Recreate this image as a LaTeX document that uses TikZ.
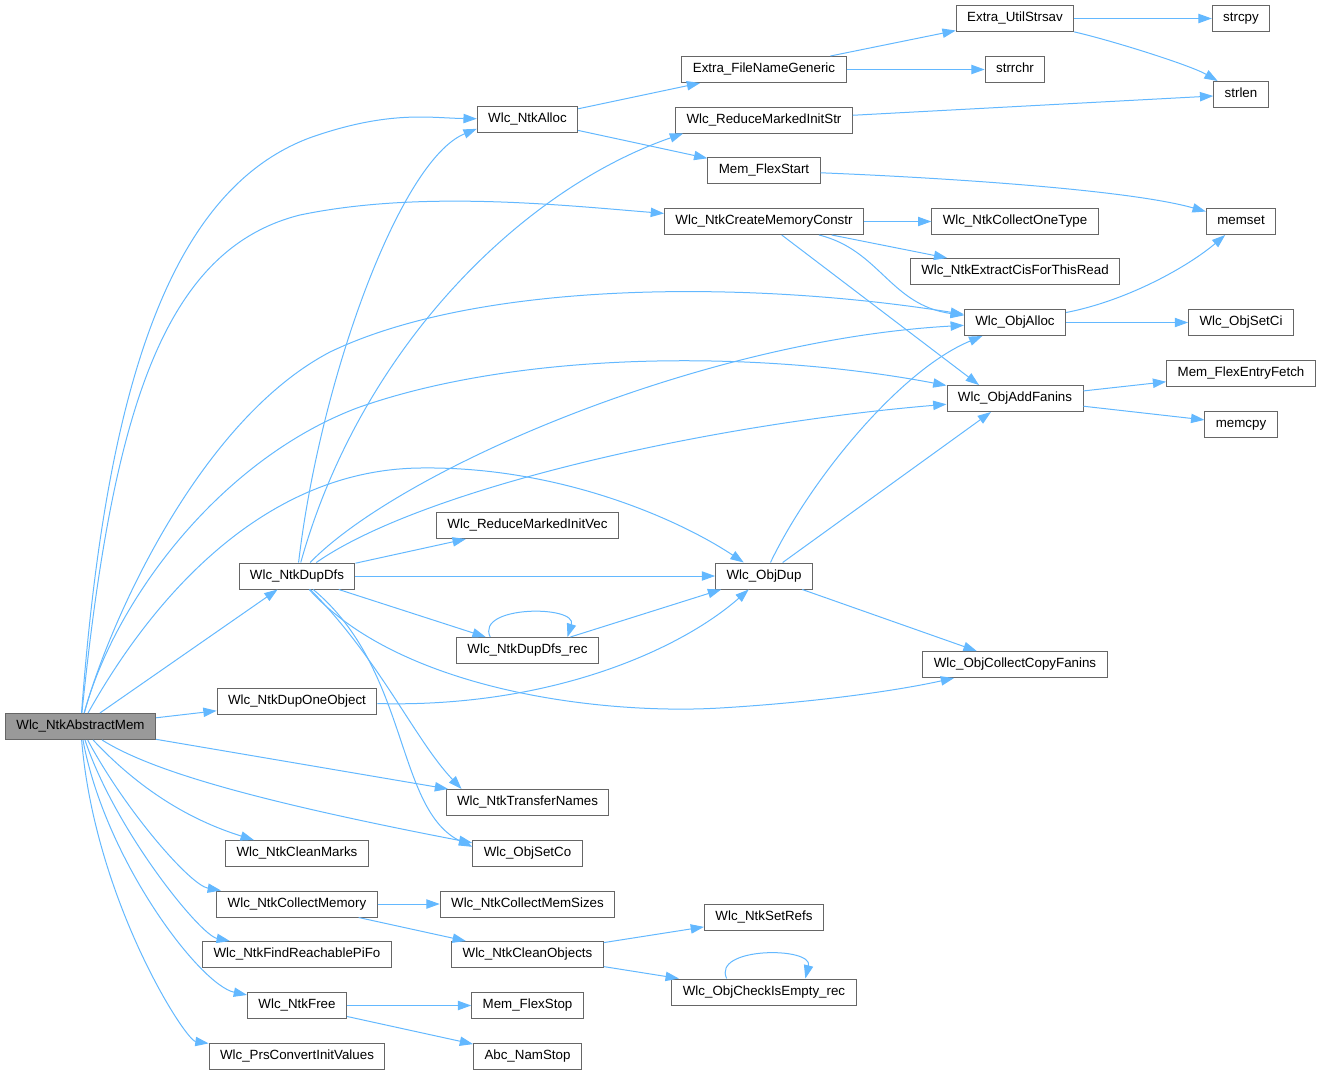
\documentclass[tikz,border=0pt]{standalone}
\usepackage{fontspec}
\setmainfont{Liberation Sans}
\usetikzlibrary{arrows.meta}
\definecolor{edgeCol}{HTML}{63B8FF}
\definecolor{boxEdge}{HTML}{666666}
\definecolor{rootFill}{HTML}{999999}
\tikzset{
  fn/.style={draw=boxEdge, fill=white, line width=0.75pt, inner xsep=8.2pt, inner ysep=0pt,
             minimum height=19.5pt, text height=7.3pt, text depth=2.2pt,
             font=\fontsize{10}{12}\selectfont},                             % one function box
  root/.style={fn, fill=rootFill},                                           % the graph's own function
  call/.style={-{Triangle[length=10pt,width=7pt]}, draw=edgeCol, line width=0.75pt}, % caller -> callee
}

\begin{document}
\begin{tikzpicture}[x=0.75pt,y=-0.75pt]
  \useasboundingbox (0,0) rectangle (1320,1075);
  \def\xa{80.5}\def\xb{297}\def\xc{527.5}\def\xd{764}\def\xe{1015}\def\xf{1241}

  \node[root] (abstractMem) at (\xa,726.5) {Wlc\_NtkAbstractMem};

  \node[fn] (dupDfs)        at (\xb,576)    {Wlc\_NtkDupDfs};
  \node[fn] (dupOne)        at (\xb,701.5)  {Wlc\_NtkDupOneObject};
  \node[fn] (cleanMarks)    at (\xb,853.5)  {Wlc\_NtkCleanMarks};
  \node[fn] (collectMem)    at (\xb,904)    {Wlc\_NtkCollectMemory};
  \node[fn] (findPiFo)      at (\xb,954.5)  {Wlc\_NtkFindReachablePiFo};
  \node[fn] (ntkFree)       at (\xb,1005.5) {Wlc\_NtkFree};
  \node[fn] (prsConvert)    at (\xb,1056)   {Wlc\_PrsConvertInitValues};

  \node[fn] (ntkAlloc)      at (\xc,119.5)  {Wlc\_NtkAlloc};
  \node[fn] (initVec)       at (\xc,525.5)  {Wlc\_ReduceMarkedInitVec};
  \node[fn] (dupDfsRec)     at (\xc,650.5)  {Wlc\_NtkDupDfs\_rec};
  \node[fn] (transferNames) at (\xc,802.5)  {Wlc\_NtkTransferNames};
  \node[fn] (objSetCo)      at (\xc,853.5)  {Wlc\_ObjSetCo};
  \node[fn] (memSizes)      at (\xc,904)    {Wlc\_NtkCollectMemSizes};
  \node[fn] (cleanObjects)  at (\xc,954.5)  {Wlc\_NtkCleanObjects};
  \node[fn] (flexStop)      at (\xc,1005.5) {Mem\_FlexStop};
  \node[fn] (namStop)       at (\xc,1056)   {Abc\_NamStop};

  \node[fn] (fileNameGeneric) at (\xd,69.5) {Extra\_FileNameGeneric};
  \node[fn] (initStr)       at (\xd,120)    {Wlc\_ReduceMarkedInitStr};
  \node[fn] (flexStart)     at (\xd,170.5)  {Mem\_FlexStart};
  \node[fn] (createMem)     at (\xd,221.5)  {Wlc\_NtkCreateMemoryConstr};
  \node[fn] (objDup)        at (\xd,576)    {Wlc\_ObjDup};
  \node[fn] (setRefs)       at (\xd,917.5)  {Wlc\_NtkSetRefs};
  \node[fn] (checkEmpty)    at (\xd,992)    {Wlc\_ObjCheckIsEmpty\_rec};

  \node[fn] (utilStrsav)    at (\xe,18.5)   {Extra\_UtilStrsav};
  \node[fn] (strrchr)       at (\xe,69.5)   {strrchr};
  \node[fn] (collectOne)    at (\xe,221.5)  {Wlc\_NtkCollectOneType};
  \node[fn] (extractCis)    at (\xe,271.5)  {Wlc\_NtkExtractCisForThisRead};
  \node[fn] (objAlloc)      at (\xe,322.5)  {Wlc\_ObjAlloc};
  \node[fn] (addFanins)     at (\xe,398.5)  {Wlc\_ObjAddFanins};
  \node[fn] (copyFanins)    at (\xe,664.5)  {Wlc\_ObjCollectCopyFanins};

  \node[fn] (strcpy)        at (\xf,18.5)   {strcpy};
  \node[fn] (strlen)        at (\xf,94.5)   {strlen};
  \node[fn] (memset)        at (\xf,221.5)  {memset};
  \node[fn] (objSetCi)      at (\xf,322.5)  {Wlc\_ObjSetCi};
  \node[fn] (flexEntry)     at (\xf,373.5)  {Mem\_FlexEntryFetch};
  \node[fn] (memcpy)        at (\xf,424)    {memcpy};

  % straight calls
  \foreach \a/\b in {abstractMem/dupDfs, abstractMem/dupOne, abstractMem/transferNames,
      ntkAlloc/fileNameGeneric, ntkAlloc/flexStart, fileNameGeneric/utilStrsav, fileNameGeneric/strrchr,
      utilStrsav/strcpy, initStr/strlen, createMem/collectOne, createMem/extractCis,
      objAlloc/objSetCi, addFanins/flexEntry, addFanins/memcpy,
      dupDfs/initVec, dupDfs/objDup, dupDfs/dupDfsRec, dupDfsRec/objDup, objDup/copyFanins,
      collectMem/memSizes, collectMem/cleanObjects, cleanObjects/setRefs, cleanObjects/checkEmpty,
      ntkFree/flexStop, ntkFree/namStop}
    \draw[call] (\a) -- (\b);
  \draw[call] (createMem) -- ([xshift=-27pt]addFanins.north);
  \draw[call] (objDup) -- ([xshift=-18pt]addFanins.south);

  % curved calls from the root
  \draw[call] (abstractMem) .. controls (105,400) and (165,190) .. (312,137)
                            .. controls (390,110) and (430,118) .. (ntkAlloc);
  \draw[call] (abstractMem) .. controls (112,420) and (160,250) .. (300,215)
                            .. controls (420,190) and (560,205) .. (createMem);
  \draw[call] (abstractMem) .. controls (110,620) and (200,420) .. (330,352)
                            .. controls (480,280) and (750,280) .. (objAlloc);
  \draw[call] (abstractMem) .. controls (115,600) and (220,460) .. (357,408)
                            .. controls (520,350) and (760,350) .. (addFanins);
  \draw[call] (abstractMem) .. controls (140,620) and (250,470) .. (420,468)
                            .. controls (560,466) and (680,520) .. (objDup);
  \draw[call] (abstractMem) .. controls (150,770) and (250,800) .. (objSetCo);
  \draw[call] (abstractMem) .. controls (140,790) and (190,820) .. (cleanMarks);
  \draw[call] (abstractMem) .. controls (125,810) and (190,885) .. (collectMem);
  \draw[call] (abstractMem) .. controls (115,830) and (200,935) .. (findPiFo);
  \draw[call] (abstractMem) .. controls (105,860) and (200,985) .. (ntkFree);
  \draw[call] (abstractMem) .. controls (95,900) and (185,1040) .. (prsConvert);

  % curved calls from Wlc_NtkDupDfs
  \draw[call] (dupDfs) .. controls (320,380) and (400,160) .. ([yshift=-7pt]ntkAlloc.west);
  \draw[call] (dupDfs) .. controls (360,350) and (520,190) .. ([xshift=6pt]initStr.south west);
  \draw[call] (dupDfs) .. controls (400,470) and (700,340) .. (objAlloc);
  \draw[call] (dupDfs) .. controls (420,490) and (700,425) .. (addFanins);
  \draw[call] (dupDfs) .. controls (400,690) and (600,715) .. (720,708)
                       .. controls (820,702) and (900,690) .. (copyFanins);
  \draw[call] (dupDfs) .. controls (380,660) and (415,740) .. ([xshift=12pt]transferNames.north west);
  \draw[call] (dupDfs) .. controls (410,670) and (395,810) .. ([yshift=5pt]objSetCo.west);

  % remaining curves and self calls
  \draw[call] (dupOne) .. controls (550,708) and (680,650) .. (objDup);
  \draw[call] ([xshift=-28pt]dupDfsRec.north) .. controls +(-15,-32) and +(10,-32) .. ([xshift=30pt]dupDfsRec.north);
  \draw[call] (objDup) .. controls (810,480) and (900,370) .. (objAlloc);
  \draw[call] (createMem) .. controls (880,250) and (890,305) .. (objAlloc);
  \draw[call] (objAlloc) .. controls (1130,300) and (1190,265) .. (memset);
  \draw[call] (flexStart) .. controls (950,178) and (1130,190) .. (memset);
  \draw[call] (utilStrsav) .. controls (1110,40) and (1190,65) .. (strlen);
  \draw[call] ([xshift=-28pt]checkEmpty.north) .. controls +(-15,-32) and +(8,-32) .. ([xshift=31pt]checkEmpty.north);
\end{tikzpicture}
\end{document}
